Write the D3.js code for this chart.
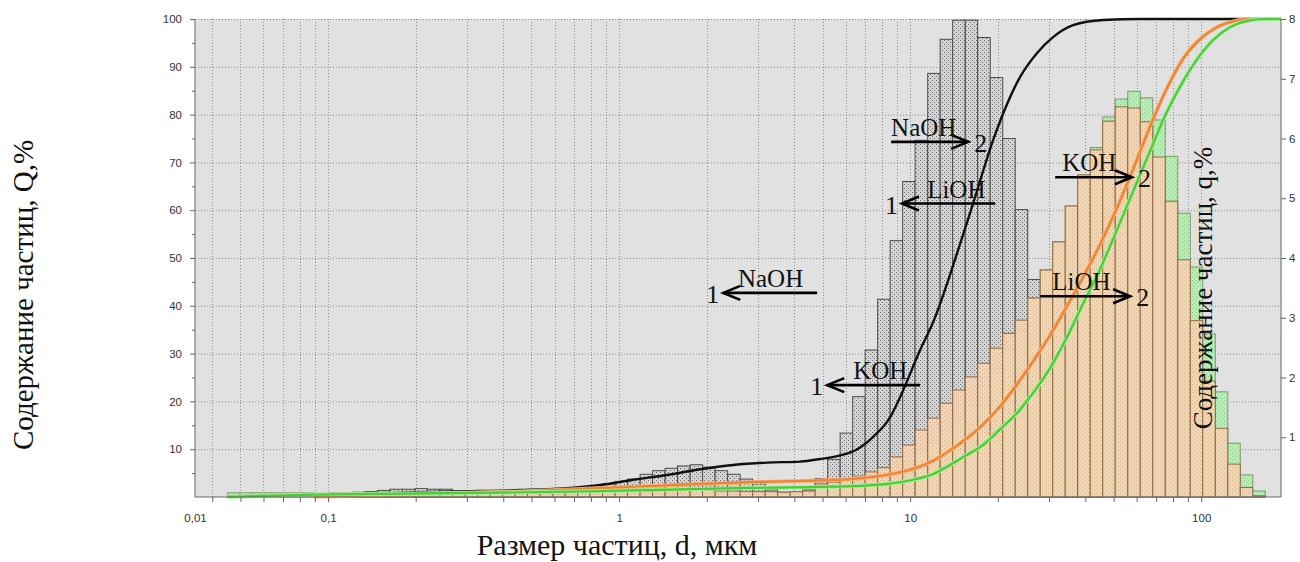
<!DOCTYPE html>
<html><head><meta charset="utf-8">
<script src="https://cdn.jsdelivr.net/npm/d3@7"></script>
<style>body{margin:0;background:#fff;} svg{display:block;}</style>
</head><body>
<svg id="chart" width="1300" height="562"></svg>
<script>
// ---------- data ----------
const binEdges = [0.0451,0.0498,0.0550,0.0607,0.0670,0.0740,0.0817,0.0902,0.0996,0.1099,
 0.1213,0.1340,0.1479,0.1633,0.1802,0.1990,0.2197,0.2425,0.2677,0.2956,
 0.3263,0.3602,0.3977,0.4390,0.4847,0.5351,0.5907,0.6521,0.7199,0.7948,
 0.8774,0.9686,1.069,1.181,1.303,1.439,1.588,1.754,1.936,2.137,
 2.359,2.605,2.876,3.175,3.505,3.869,4.272,4.716,5.206,5.747,
 6.345,7.005,7.733,8.537,9.425,10.40,11.49,12.68,14.00,15.46,
 17.06,18.84,20.80,22.96,25.34,27.98,30.89,34.10,37.65,41.56,
 45.88,50.65,55.92,61.74,68.16,75.24,83.07,91.70,101.2,111.8,
 123.4,136.2,150.4,166.0];

// differential content q, % (right axis), one value per bin
const naohQ = [0,0,0,0,0,0,0,0,0,0,
 0.08,0.09,0.11,0.13,0.13,0.14,0.13,0.13,
 0.06,0.05,0.05,0.06,0.05,0.06,0.06,0.05,0.06,0.07,
 0.12,0.18,0.22,0.26,0.30,0.38,0.44,0.48,0.52,0.54,0.50,0.44,0.38,0.30,0.22,0.12,0.08,0.08,0.12,
 0.31,0.63,1.07,1.68,2.46,3.31,4.29,5.28,5.97,7.09,7.66,7.98,7.98,7.69,7.02,6.00,4.81,3.64,2.58,1.65,0.90,0.42,0.15,
 0,0,0,0,0,0,0,0,0,0,0,0,0];
const kohQ = [0,0,0,0,0,0,0,
 0.06,0.07,0.07,0.07,0.07,0.08,0.07,0.08,0.07,0.08,0.08,0.07,0.08,0.08,0.07,0.08,0.08,0.07,0.08,0.08,0.08,
 0.09,0.10,0.10,0.11,0.11,0.12,0.12,0.12,0.12,0.11,0.11,0.10,0.10,0.09,0.09,0.09,0.08,0.09,0.10,
 0.22,0.25,0.28,0.35,0.42,0.49,0.67,0.87,1.12,1.32,1.57,
 1.79,2.01,2.24,2.49,2.74,2.96,3.33,3.80,4.27,4.87,5.39,5.81,6.29,6.53,6.51,6.28,5.69,4.95,3.97,2.95,1.94,1.15,0.55,0.16,0.02];
const liohQ = [0.07,0.07,0.07,0.07,0.07,0.07,0.07,
 0.03,0.03,0.03,0.03,0.03,0.03,0.03,0.03,0.03,0.03,0.03,0.03,0.03,0.03,0.03,0.03,0.03,0.03,0.03,0.03,0.03,
 0.05,0.05,0.05,0.05,0.05,0.05,0.05,0.05,0.05,0.05,0.05,0.05,0.05,0.05,0.05,0.05,0.05,0.05,0.05,
 0.15,0.18,0.20,0.25,0.30,0.38,0.45,0.60,0.75,0.90,1.10,
 1.29,1.54,1.84,2.16,2.46,2.76,3.33,3.80,4.27,4.87,5.39,5.85,6.36,6.66,6.79,6.68,6.31,5.70,4.75,3.85,2.73,1.76,0.90,0.37,0.10];

// cumulative content Q, % (left axis): [size, Q]
const naohCum = [[0.1016,0.1],[0.163,0.8],[0.267,1.15],[0.457,1.45],[0.679,1.9],[0.860,2.5],
 [1.117,3.6],[1.462,4.6],[1.898,5.8],[2.465,6.7],[3.226,7.2],[4.188,7.4],[4.906,7.95],[5.75,8.7],
 [6.58,10.0],[7.46,12.6],[8.54,16.7],[9.24,20.9],[10.82,30.75],[12.0,36.6],[14.62,51.7],[16.47,61.5],
 [19.29,74.7],[23.88,87.9],[27.3,92.9],[30.98,96.2],[36.3,98.7],[46.0,99.8],[61.7,100],[188,100]];
const kohCum = [[0.0895,0.05],[0.163,0.5],[0.2626,0.85],[0.457,1.15],[0.734,1.7],[1.278,2.3],
 [2.819,3.1],[4.188,3.35],[6.22,3.75],[7.885,4.4],[10.24,5.9],[12.0,7.6],[13.6,9.6],[15.46,12.0],
 [17.4,14.6],[20.39,19.0],[23.32,23.6],[27.0,29.2],[30.28,33.9],[34.63,40.0],[39.3,46.0],[44.98,52.9],
 [51.44,60.6],[58.4,68.6],[66.8,77.6],[76.4,85.6],[86.7,91.7],[99.2,95.8],[112.6,98.2],[128.8,99.5],
 [147.3,100],[188,100]];
const liohCum = [[0.045,0.05],[0.0902,0.5],[0.2626,0.8],[0.734,1.15],[1.278,1.45],[2.819,1.9],
 [4.906,2.1],[7.885,2.6],[10.24,3.6],[12.0,4.8],[13.72,6.7],[15.46,8.6],[17.82,10.9],[20.39,14.2],
 [23.32,17.6],[27.0,22.5],[30.28,27.0],[34.63,33.5],[39.3,40.5],[44.98,47.7],[51.44,56.0],[58.4,64.0],
 [66.8,72.4],[75.2,79.8],[84.7,85.9],[96.9,91.6],[109.9,95.6],[125.8,98.3],[143.9,99.6],[166,100],[188,100]];

const yTicksLeft = [10,20,30,40,50,60,70,80,90,100];
const yTicksRight = [1,2,3,4,5,6,7,8];
const xTickValues = [0.0349,0.1,1,10,100];
const xTickLabels = ["0,01","0,1","1","10","100"];

// annotations in data units: arrow from tail [size,Q] to tip, label start size, number
const annotations = [
 {label:"NaOH", num:"1", tail:[4.79,42.7], tip:[2.28,42.7], labelAt:2.56},
 {label:"KOH",  num:"1", tail:[10.82,23.4], tip:[5.19,23.4], labelAt:6.37},
 {label:"NaOH", num:"2", tail:[8.60,74.3], tip:[15.82,74.3], labelAt:8.60},
 {label:"LiOH", num:"1", tail:[19.6,61.4], tip:[9.37,61.4], labelAt:11.44},
 {label:"KOH",  num:"2", tail:[31.5,66.9], tip:[57.8,66.9], labelAt:33.3},
 {label:"LiOH", num:"2", tail:[27.97,42.0], tip:[57.0,42.0], labelAt:30.76}
];

// ---------- chart ----------
const svg = d3.select("#chart");
const P = {left:195, right:1281, top:19, bottom:497};
const x = d3.scaleLog().domain([0.0349,188]).range([P.left,P.right]);
const yL = d3.scaleLinear().domain([0,100]).range([P.bottom,P.top]);
const yR = d3.scaleLinear().domain([0,8]).range([P.bottom,P.top]);

const defs = svg.append("defs");
function dots(id,bg,dot){
  const p = defs.append("pattern").attr("id",id).attr("patternUnits","userSpaceOnUse")
    .attr("width",4).attr("height",4);
  p.append("rect").attr("width",4).attr("height",4).attr("fill",bg);
  p.append("rect").attr("x",0).attr("y",0).attr("width",1).attr("height",1).attr("fill",dot);
  p.append("rect").attr("x",2).attr("y",2).attr("width",1).attr("height",1).attr("fill",dot);
}
dots("pGray","#d4d4d4","#6a6a6a");
dots("pOrange","#f3d6bc","#dcae86");
dots("pGreen","#bfeabf","#86c886");

svg.append("rect").attr("x",P.left).attr("y",P.top).attr("width",P.right-P.left)
  .attr("height",P.bottom-P.top).attr("fill","#e1e1e1");

// grid
const grid = svg.append("g").attr("stroke","#8c8c8c").attr("stroke-dasharray","1,2").attr("stroke-width",1);
grid.selectAll("line.h").data(yTicksLeft).join("line")
  .attr("x1",P.left).attr("x2",P.right).attr("y1",d=>yL(d)+0.5).attr("y2",d=>yL(d)+0.5);
grid.selectAll("line.v").data(x.ticks()).join("line")
  .attr("x1",d=>Math.round(x(d))+0.5).attr("x2",d=>Math.round(x(d))+0.5).attr("y1",P.top).attr("y2",P.bottom);

// bars
function bars(vals, fill, stroke, op){
  const g = svg.append("g");
  g.selectAll("rect").data(vals.map((v,i)=>({v,i})).filter(d=>d.v>0)).join("rect")
    .attr("x",d=>x(binEdges[d.i]))
    .attr("width",d=>x(binEdges[d.i+1])-x(binEdges[d.i]))
    .attr("y",d=>yR(d.v))
    .attr("height",d=>yR(0)-yR(d.v))
    .attr("fill",fill).attr("fill-opacity",op)
    .attr("stroke",stroke).attr("stroke-width",1);
}
bars(naohQ,"url(#pGray)","#4a4a4a",1);
bars(liohQ,"url(#pGreen)","#7b9c62",1);
bars(kohQ,"url(#pOrange)","#8e6a44",0.9);

// cumulative curves
const line = d3.line().x(d=>x(d[0])).y(d=>yL(d[1])).curve(d3.curveMonotoneX);
svg.append("path").datum(naohCum).attr("d",line).attr("fill","none").attr("stroke","#111").attr("stroke-width",2.4);
svg.append("path").datum(kohCum).attr("d",line).attr("fill","none").attr("stroke","#f5b27a").attr("stroke-width",4);
svg.append("path").datum(kohCum).attr("d",line).attr("fill","none").attr("stroke","#ee8430").attr("stroke-width",2.2);
svg.append("path").datum(liohCum).attr("d",line).attr("fill","none").attr("stroke","#a6ec98").attr("stroke-width",4);
svg.append("path").datum(liohCum).attr("d",line).attr("fill","none").attr("stroke","#46cf34").attr("stroke-width",2.2);

// axes
const tickFont = g => g.selectAll("text").attr("font-family","'Liberation Sans', Arial, sans-serif")
  .attr("font-size","11.5px").attr("fill","#333");
const ax = g => { g.selectAll("path,line").attr("stroke","#666"); };

svg.append("g").attr("transform",`translate(${P.left},0)`)
  .call(d3.axisLeft(yL).tickValues(yTicksLeft).tickSize(5).tickSizeOuter(0).tickPadding(8).tickFormat(d3.format("d")))
  .call(ax).call(tickFont).call(g=>g.select(".domain").attr("d",`M0,${P.top}V${P.bottom}`));
svg.append("g").attr("transform",`translate(${P.left},0)`)
  .call(d3.axisLeft(yL).tickValues(d3.range(5,100,10)).tickSize(3).tickFormat(""))
  .call(ax).call(g=>g.select(".domain").remove());

svg.append("g").attr("transform",`translate(${P.right},0)`)
  .call(d3.axisRight(yR).tickValues(yTicksRight).tickSize(5).tickSizeOuter(0).tickPadding(3).tickFormat(d3.format("d")))
  .call(ax).call(tickFont).call(g=>g.select(".domain").attr("d",`M0,${P.top}V${P.bottom}`));

svg.append("g").attr("transform",`translate(0,${P.bottom})`)
  .call(d3.axisBottom(x).tickValues(x.ticks()).tickSize(5).tickSizeOuter(0).tickFormat(""))
  .call(ax).call(g=>g.select(".domain").attr("d",`M${P.left},0H${P.right}`));
svg.append("g").attr("transform",`translate(0,${P.bottom})`)
  .call(d3.axisBottom(x).tickValues(xTickValues).tickSize(0).tickPadding(17).tickFormat((d,i)=>xTickLabels[i]))
  .call(tickFont).call(g=>g.select(".domain").remove());

// titles
const serif = "'Liberation Serif','Times New Roman',serif";
svg.append("text").attr("transform","translate(33,295) rotate(-90)").attr("text-anchor","middle")
  .attr("font-family",serif).attr("font-size","29px").attr("fill","#111").text("Содержание частиц, Q,%");
svg.append("text").attr("transform","translate(1212,288) rotate(-90)").attr("text-anchor","middle")
  .attr("font-family",serif).attr("font-size","27px").attr("fill","#111").text("Содержание частиц, q,%");
svg.append("text").attr("x",617).attr("y",555).attr("text-anchor","middle")
  .attr("font-family",serif).attr("font-size","30px").attr("fill","#111").text("Размер частиц, d, мкм");

// annotations
const an = svg.append("g").attr("font-family",serif).attr("fill","#111");
annotations.forEach(a=>{
  const tx=x(a.tail[0]), ty=yL(a.tail[1]), px=x(a.tip[0]), py=yL(a.tip[1]);
  const dir = px>tx?1:-1;
  an.append("line").attr("x1",tx).attr("y1",ty).attr("x2",px).attr("y2",py)
    .attr("stroke","#000").attr("stroke-width",2.6);
  an.append("path").attr("d",`M${px-dir*17},${py-7}L${px},${py}L${px-dir*17},${py+7}`)
    .attr("fill","none").attr("stroke","#000").attr("stroke-width",2.6);
  an.append("text").attr("x",x(a.labelAt)).attr("y",ty-6).attr("font-size","25px").text(a.label);
  an.append("text").attr("x",dir>0?px+6:px-4).attr("y",py+10).attr("text-anchor",dir>0?"start":"end")
    .attr("font-size","26px").text(a.num);
});
</script>
</body></html>
